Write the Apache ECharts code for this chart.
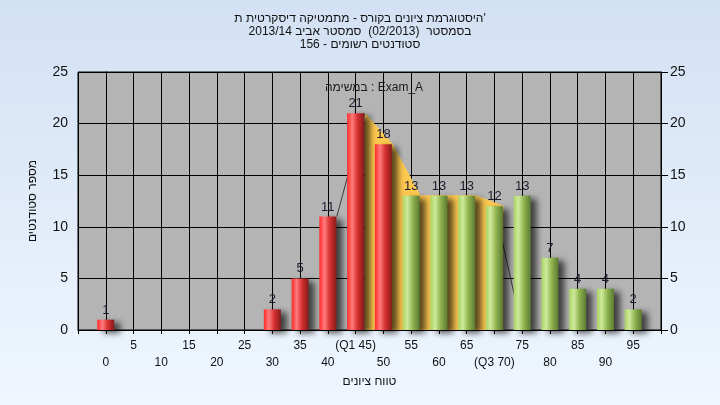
<!DOCTYPE html>
<html><head><meta charset="utf-8">
<script src="https://cdn.jsdelivr.net/npm/echarts@6/dist/echarts.min.js"></script>
<style>html,body{margin:0;padding:0;}#c{width:720px;height:405px;}</style>
</head><body><div id="c"></div>
<script>
// ---- data ----
var scores = [0,5,10,15,20,25,30,35,40,45,50,55,60,65,70,75,80,85,90,95];
var counts = [1,0,0,0,0,0,2,5,11,21,18,13,13,13,12,13,7,4,4,2];
var xTickLabels = ['0','5','10','15','20','25','30','35','40','(Q1 45)','50','55','60','65','(Q3 70)','75','80','85','90','95'];
var yTicks = [0,5,10,15,20,25];
var iqrScores = [45,50,55,60,65,70];
var iqrCounts = [21,18,13,13,13,12];
var edgeLeftX = [40,45], edgeLeftY = [11,21];
var edgeRightX = [70,75], edgeRightY = [12,0];
var titleLines = ["היסטוגרמת ציונים בקורס - מתמטיקה דיסקרטית ת'", "בסמסטר  (02/2013)  סמסטר אביב 2013/14", "סטודנטים רשומים - 156"];
var legendText = "במשימה : Exam_A";
var xName = "טווח ציונים";
var yName = "מספר סטודנטים";

var FONT = 'Liberation Sans';
var G = echarts.graphic;
var redGrad = new G.LinearGradient(0,0,1,0,[{offset:0,color:'#ff2b2b'},{offset:0.3,color:'#ff7b7b'},{offset:0.6,color:'#d83232'},{offset:1,color:'#861a1a'}]);
var greenGrad = new G.LinearGradient(0,0,1,0,[{offset:0,color:'#a9d462'},{offset:0.28,color:'#cfe99c'},{offset:0.6,color:'#8fb44f'},{offset:1,color:'#5b7a32'}]);

function pairs(xs, ys){ return xs.map(function(x,i){return [x, ys[i]];}); }

var chart = echarts.init(document.getElementById('c'), null, {renderer:'canvas'});
var grid0 = {left:78, right:59, top:72, bottom:75};
var grid1 = {left:87, right:50, top:72, bottom:75};
chart.setOption({
  animation:false,
  backgroundColor: new G.LinearGradient(0,0,0,1,[{offset:0,color:'#d3e1f4'},{offset:1,color:'#eff6fe'}]),
  textStyle:{fontFamily:FONT},
  title:[
    {text: titleLines.join('\n'), left:'center', top:7, textStyle:{fontFamily:FONT, fontSize:12, fontWeight:'normal', color:'#111', lineHeight:13}},
    {text: legendText, left:369, top:77, textAlign:'center', textStyle:{fontFamily:FONT, fontSize:12, fontWeight:'normal', color:'#1a1a1a'}}
  ],
  grid:[
    Object.assign({show:true, backgroundColor:'#b4b4b4', borderColor:'#000', borderWidth:1}, grid0),
    grid1
  ],
  xAxis:[
    {type:'value', gridIndex:0, min:-5, max:100, interval:5,
     name:xName, nameLocation:'middle', nameGap:46, nameTextStyle:{fontFamily:FONT, fontSize:12, color:'#111'},
     axisLine:{lineStyle:{color:'#000'}}, axisTick:{show:true, length:4, lineStyle:{color:'#000'}},
     splitLine:{show:true, lineStyle:{color:'#000', width:1}},
     axisLabel:{fontFamily:FONT, fontSize:12, color:'#111', margin:7, lineHeight:17, showMinLabel:true, showMaxLabel:true,
       formatter:function(v){ var i = scores.indexOf(v); if(i<0) return ''; return (i%2===1) ? xTickLabels[i] : '\n'+xTickLabels[i]; }}
    },
    {type:'value', gridIndex:1, min:-5, max:100, interval:5, show:false}
  ],
  yAxis:[
    {type:'value', gridIndex:0, min:0, max:25, interval:5, position:'left',
     name:yName, nameLocation:'middle', nameGap:39, nameRotate:90, nameTextStyle:{fontFamily:FONT, fontSize:12, color:'#111'},
     axisLine:{show:true, lineStyle:{color:'#000'}}, axisTick:{show:true, length:8, lineStyle:{color:'#000'}},
     splitLine:{show:true, lineStyle:{color:'#000', width:1}},
     axisLabel:{fontFamily:FONT, fontSize:14, color:'#111', margin:10, formatter:function(v){return yTicks.indexOf(v)>=0? String(v):'';}}},
    {type:'value', gridIndex:0, min:0, max:25, interval:5, position:'right',
     axisLine:{show:true, lineStyle:{color:'#000'}}, axisTick:{show:true, length:7, lineStyle:{color:'#000'}},
     splitLine:{show:false},
     axisLabel:{fontFamily:FONT, fontSize:14, color:'#111', margin:9}},
    {type:'value', gridIndex:1, min:0, max:25, interval:5, show:false, splitLine:{show:false}}
  ],
  series:[
    {type:'line', xAxisIndex:1, yAxisIndex:2, data:pairs(iqrScores, iqrCounts), symbol:'none', z:1,
     lineStyle:{color:'#ffc94f', width:1}, areaStyle:{color:'#ffc94f', opacity:1}},
    {type:'line', xAxisIndex:1, yAxisIndex:2, data:pairs(edgeLeftX, edgeLeftY), symbol:'none', z:1, lineStyle:{color:'#3a3a3a', width:1}},
    {type:'line', xAxisIndex:0, yAxisIndex:0, data:pairs(edgeRightX, edgeRightY), symbol:'none', z:1, lineStyle:{color:'#3a3a3a', width:1}},
    {type:'bar', xAxisIndex:0, yAxisIndex:0, data:pairs(scores, counts), barWidth:17, z:3,
     itemStyle:{color:function(p){ return p.value[0] <= 50 ? redGrad : greenGrad; },
       shadowColor:'rgba(0,0,0,0.65)', shadowBlur:6, shadowOffsetX:6, shadowOffsetY:3},
     label:{show:true, position:'top', distance:3, fontFamily:FONT, fontSize:13, color:'#1c1c30',
       formatter:function(p){ return p.value[1] > 0 ? String(p.value[1]) : ''; }}}
  ]
});
</script></body></html>
